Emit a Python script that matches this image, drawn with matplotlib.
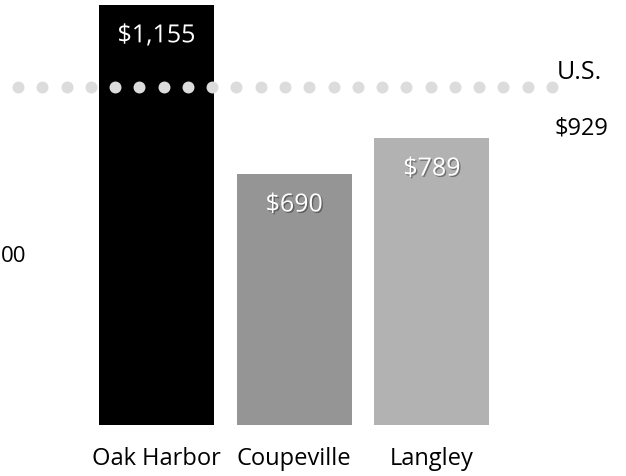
import numpy as np
import matplotlib.pyplot as plt
import matplotlib.patheffects as pe

plt.rcParams['font.family'] = ['Open Sans', 'DejaVu Sans']

towns = ["Oak Harbor", "Coupeville", "Langley"]
rent = [1155, 690, 789]
rent_labels = ["$1,155", "$690", "$789"]
bar_colors = ["#000000", "#959595", "#b2b2b2"]
us_value = 929
us_label = "$929"
side_label = "00"

W, H = 626, 476
fig = plt.figure(figsize=(W / 100, H / 100), dpi=100)
ax = fig.add_axes([0, 0, 1, 1])

# pixel layout: bar centres 156.5 + 137.7*i, baseline at y=425, 0.3638 px per dollar
step = 137.7
x0 = 156.5
ppu = 0.3638
base = 425
ax.set_xlim(-x0 / step, (W - x0) / step)
ax.set_ylim(-(H - base) / ppu, base / ppu)
ax.axis("off")

x = np.arange(len(towns))
ax.bar(x, rent, width=115 / step, color=bar_colors, zorder=1)

shadow = [pe.withSimplePatchShadow(offset=(1, -1), shadow_rgbFace="black", alpha=0.35)]
for xi, v, lab in zip(x, rent, rent_labels):
    ax.annotate(lab, (xi, v), xytext=(0, -27), textcoords="offset points",
                ha="center", va="baseline", color="white", fontsize=18,
                path_effects=shadow, zorder=4)

for xi, name in zip(x, towns):
    ax.annotate(name, (xi, 0), xytext=(0, -29), textcoords="offset points",
                ha="center", va="baseline", color="#000000", fontsize=17)

# dotted U.S. reference line
dots_x = np.linspace((18 - x0) / step, (552 - x0) / step, 23)
ax.plot(dots_x, [us_value] * len(dots_x), linestyle="none", marker="o",
        markersize=8.6, color="#dcdcdc", markeredgewidth=0, zorder=3)

ax.annotate("U.S.", ((557 - x0) / step, us_value), xytext=(0, 6),
            textcoords="offset points", ha="left", va="baseline",
            color="#000000", fontsize=18)
ax.annotate(us_label, ((555 - x0) / step, us_value), xytext=(0, -34.5),
            textcoords="offset points", ha="left", va="baseline",
            color="#000000", fontsize=17)

fig.text(1 / W, 1 - 262 / H, side_label, ha="left", va="baseline",
         color="#000000", fontsize=16)

fig.savefig("out.png", dpi=100)
